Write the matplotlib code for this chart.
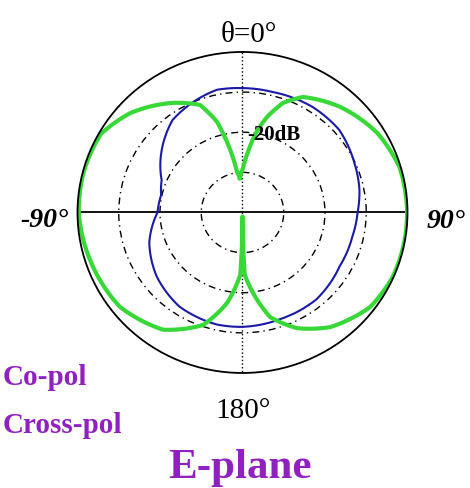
import numpy as np
import matplotlib
matplotlib.use("Agg")
import matplotlib.pyplot as plt

# angles in degrees clockwise from theta=0 (kept continuous, 0..360), level in dB
co_ang = [0, 13.6, 32.8, 48.8, 65.6, 78.8, 90, 102.7, 119.7, 140.4, 161.4, 180,
          192.7, 213.1, 232.6, 251.7, 270, 282.4, 292.4, 310.1, 323.6, 338.3, 348.5, 360]
co_db = [-9.0, -9.1, -8.7, -8.8, -10.2, -11.1, -12.1, -12.7, -12.9, -11.9, -11.9, -11.5,
         -11.4, -12.0, -13.8, -16.2, -19.4, -19.8, -18.8, -14.6, -11.4, -9.8, -8.8, -9.0]

xp_ang = [-4.3, 0.7, 5.0, 8.9, 14.0, 19.8, 27.0, 42.0, 58.7, 73.5, 90, 100, 113.8, 127.3,
          143.4, 155.4, 165.6, 172.7, 178.0, 180, 182.0, 189.5, 198.8, 213.4, 231.6,
          252.2, 270, 285, 299.8, 312.3, 328.3, 339.0, 344.7, 347.9, 350.4, 352.5, 355.7]
xp_db = [-31.4, -28.9, -24.9, -20.4, -15.5, -11.0, -7.7, -4.6, -1.8, -0.3, -0.1, -0.1, -0.2, -1.1,
         -4.4, -8.3, -13.1, -19.8, -24.5, -39.0, -24.5, -17.1, -10.4, -5.0, -2.1,
         -1.2, -0.3, -0.2, -0.5, -3.2, -7.9, -11.3, -16.6, -22.0, -26.2, -29.8, -31.4]

ring_db = [-30, -20, -10]
r_min, r_max = -40, 0

serif = ["Liberation Serif", "DejaVu Serif"]
purple = "#9020c0"

fig = plt.figure(figsize=(4.7, 4.88), dpi=100)
ax = fig.add_axes([0.1649, 0.2357, 0.7021, 0.6578], projection="polar")
ax.set_aspect("auto")
ax.set_theta_zero_location("N")
ax.set_theta_direction(-1)
ax.set_rlim(r_min, r_max)

ax.set_xticks([])
ax.set_rgrids(ring_db)
ax.set_yticklabels([])
ax.xaxis.grid(False)
ax.yaxis.grid(True, color="k", lw=1.0, ls=(0, (5, 3, 1, 3)))
ax.spines["polar"].set_color("k")
ax.spines["polar"].set_linewidth(1.3)

# axis lines through the centre
for a in [90, -90]:
    ax.plot(np.deg2rad([a, a]), [r_min, r_max], color="k", lw=1.3)
for a in [0, 180]:
    ax.plot(np.deg2rad([a, a]), [r_min, r_max], color="k", lw=1.0, ls=":")

co_line, = ax.plot(np.deg2rad(co_ang), co_db, color="#1a1aa6", lw=1.5)
xp_line, = ax.plot(np.deg2rad(xp_ang), xp_db, color="#38d838", lw=3.0)
# let the polar transform draw curved segments between the read points
for ln in (co_line, xp_line):
    ln.get_path()._interpolation_steps = 30

W, H = 470.0, 488.0
fig.text(249 / W, 1 - 42 / H, "θ=0°", family=serif, fontsize=21, ha="center", va="baseline")
fig.text(243 / W, 1 - 418 / H, "180°", family=serif, fontsize=21, ha="center", va="baseline")
fig.text(44 / W, 1 - 227 / H, "-90°", family=serif, fontsize=20, weight="bold", style="italic",
         ha="center", va="baseline")
fig.text(446 / W, 1 - 228 / H, "90°", family=serif, fontsize=20, weight="bold", style="italic",
         ha="center", va="baseline")
fig.text(247 / W, 1 - 140 / H, "-20dB", family=serif, fontsize=15, weight="bold",
         ha="left", va="baseline")
fig.text(240 / W, 1 - 478 / H, "E-plane", family=serif, fontsize=31, weight="bold", color=purple,
         ha="center", va="baseline")
fig.text(3 / W, 1 - 385 / H, "Co-pol", family=serif, fontsize=21, weight="bold", color=purple,
         ha="left", va="baseline")
fig.text(3 / W, 1 - 433 / H, "Cross-pol", family=serif, fontsize=21, weight="bold", color=purple,
         ha="left", va="baseline")

fig.savefig("out.png", dpi=100)
plt.close()
